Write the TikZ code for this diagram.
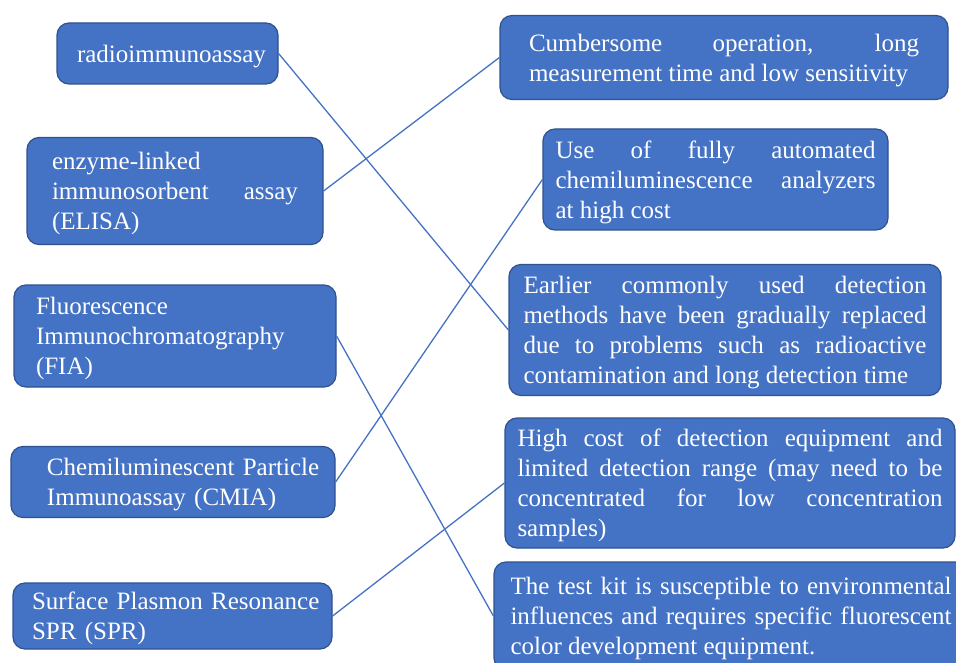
\documentclass[tikz,border=0pt]{standalone}
\usepackage{fontspec}
\setmainfont{Liberation Serif}
\definecolor{boxblue}{HTML}{4472C4}
\definecolor{boxedge}{HTML}{2F528F}
\hyphenpenalty=10000
\tolerance=10000
\newcommand{\pad}[1]{\hspace*{#1}}
\begin{document}
\begin{tikzpicture}[x=1pt,y=-1pt,
  card/.style={draw=boxedge, line width=1.2pt, fill=boxblue, rounded corners=12pt,
    text=white, inner sep=0pt, font=\fontsize{25}{30}\selectfont,
    execute at begin node={\rule{0pt}{23pt}}},
  link/.style={draw=boxblue, line width=1.3pt}]

\useasboundingbox (0,0) rectangle (956,663);

% methods
\node[card, minimum width=221, minimum height=61, text width=205, align=left] (radio) at (167.5,53.5) {\pad{12pt}radioimmunoassay};

\node[card, minimum width=296, minimum height=107, text width=246, align=justify] (elisa) at (175,191) {enzyme-linked\\ immunosorbent assay\linebreak (ELISA)};

\node[card, minimum width=322, minimum height=102, text width=290, align=left] (fia) at (175,336) {\pad{6pt}Fluorescence\\ \pad{6pt}Immunochromatography\\ \pad{6pt}(FIA)};

\node[card, minimum width=324, minimum height=71, text width=300, align=left] (cmia) at (173,482) {\pad{24pt}Chemiluminescent Particle\\ \pad{24pt}Immunoassay (CMIA)};

\node[card, minimum width=319, minimum height=66, text width=295, align=left] (spr) at (172.5,616) {\pad{7pt}Surface Plasmon Resonance\\ \pad{7pt}SPR (SPR)};

% drawbacks
\node[card, minimum width=448, minimum height=84, text width=390, align=justify] (slow) at (724,57.5) {Cumbersome operation, long\linebreak measurement time and low sensitivity};

\node[card, minimum width=345, minimum height=101, text width=320, align=justify] (auto) at (715.5,179.5) {Use of fully automated\linebreak chemiluminescence analyzers\linebreak at high cost};

\node[card, minimum width=432, minimum height=131, text width=403, align=justify] (old) at (725,330) {Earlier commonly used detection\linebreak methods have been gradually replaced\linebreak due to problems such as radioactive\linebreak contamination and long detection time};

\node[card, minimum width=450, minimum height=130, text width=425, align=justify] (cost) at (730,483) {High cost of detection equipment and\linebreak limited detection range (may need to be\linebreak concentrated for low concentration\linebreak samples)};

\node[card, minimum width=474, minimum height=108, text width=441, align=justify] (kit) at (731,616) {The test kit is susceptible to environmental\linebreak influences and requires specific fluorescent\linebreak color development equipment.};

\draw[link] (radio.east) -- (old.west);
\draw[link] (elisa.east) -- (slow.west);
\draw[link] (fia.east) -- (kit.west);
\draw[link] (cmia.east) -- (auto.west);
\draw[link] (spr.east) -- (cost.west);

\end{tikzpicture}
\end{document}
